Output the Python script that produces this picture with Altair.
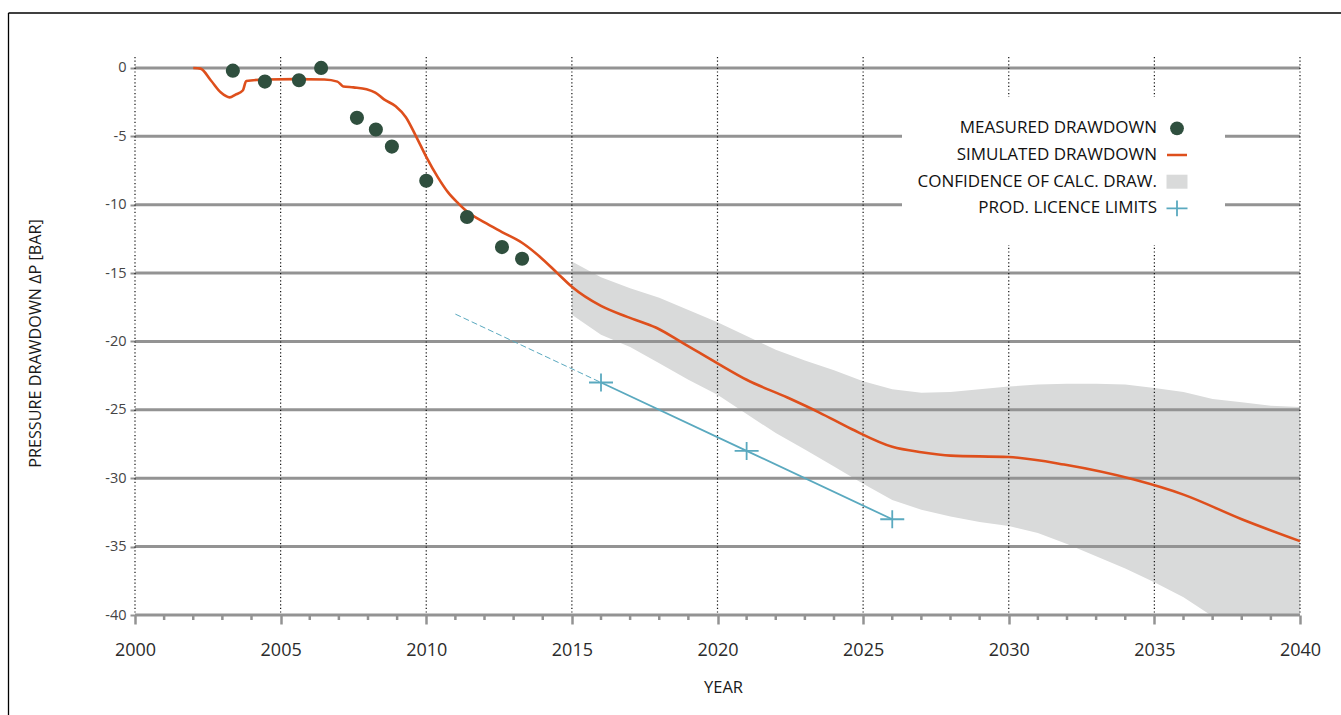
import altair as alt
import pandas as pd

# ---- data -------------------------------------------------------------
measured_year = [2003.36, 2004.46, 2005.63, 2006.39, 2007.62, 2008.27,
                 2008.82, 2010.0, 2011.40, 2012.60, 2013.29]
measured_dp = [-0.2, -1.0, -0.9, 0.0, -3.65, -4.5, -5.75, -8.25, -10.9,
               -13.1, -13.95]

sim_year = [2002.0, 2002.25, 2002.6, 2002.95, 2003.25, 2003.45, 2003.7,
            2003.82, 2004.5, 2005.5, 2006.5, 2006.95, 2007.15, 2007.5,
            2007.95, 2008.25, 2008.55, 2008.95, 2009.3, 2009.65, 2010.0,
            2010.4, 2010.75, 2011.1, 2011.4, 2012.0, 2012.6, 2013.3,
            2013.9, 2014.5, 2015.0, 2016.0, 2016.9, 2017.9, 2018.8,
            2020.0, 2021.0, 2022.4, 2023.5, 2024.6, 2026.0, 2027.0,
            2028.0, 2030.0, 2031.9, 2034.3, 2036.0, 2038.0, 2040.0]
sim_dp = [0.0, -0.05, -0.9, -1.8, -2.15, -1.95, -1.65, -0.95, -0.85,
          -0.82, -0.85, -1.0, -1.35, -1.42, -1.55, -1.8, -2.3, -2.8,
          -3.6, -5.0, -6.5, -8.0, -9.1, -9.9, -10.5, -11.3, -12.0, -12.8,
          -13.8, -15.0, -16.0, -17.4, -18.2, -19.0, -20.1, -21.6, -22.8,
          -24.1, -25.2, -26.4, -27.7, -28.1, -28.35, -28.45, -29.0, -30.1,
          -31.2, -33.0, -34.6]

band_year = list(range(2015, 2041))
band_upper = [-14.15, -15.3, -16.1, -16.8, -17.7, -18.6, -19.6, -20.6,
              -21.4, -22.1, -22.9, -23.5, -23.75, -23.7, -23.5, -23.3,
              -23.15, -23.1, -23.1, -23.15, -23.4, -23.7, -24.2, -24.45,
              -24.7, -24.8]
band_lower = [-18.05, -19.5, -20.4, -21.6, -22.8, -23.9, -25.3, -26.7,
              -27.9, -29.15, -30.4, -31.6, -32.3, -32.8, -33.2, -33.5,
              -34.0, -34.8, -35.7, -36.6, -37.6, -38.7, -40.1, -41.5,
              -43.0, -44.5]

licence_year = [2016, 2021, 2026]
licence_dp = [-23, -28, -33]
licence_trend_year = [2011, 2016]
licence_trend_dp = [-18, -23]

legend_labels = ["MEASURED DRAWDOWN", "SIMULATED DRAWDOWN",
                 "CONFIDENCE OF CALC. DRAW.", "PROD. LICENCE LIMITS"]

x_major = list(range(2000, 2041, 5))
x_minor = [y for y in range(2000, 2041) if y % 5 != 0]
y_ticks = list(range(-40, 1, 5))

# ---- styling ------------------------------------------------------------
FONT = "Open Sans"
ORANGE = "#de4f1c"
GREEN = "#2f4f3e"
TEAL = "#5aa9bf"
BAND = "#d9dada"
GRID = "#939393"
W, H = 1165, 558
CROSS = "M-1,0H1M0,-0.75V0.75"

xs = alt.Scale(domain=[2000, 2040], nice=False, zero=False)
ys = alt.Scale(domain=[-40, 0.8], nice=False, zero=False)

x_axis = alt.Axis(
    values=x_major, format="d", title="YEAR", grid=False, domain=False,
    labelFlush=False, labelOverlap=False,
    tickColor=GRID, tickWidth=2.5, tickSize=9, labelPadding=17,
    labelFont=FONT, labelFontSize=18, labelColor="#2b2b2b",
    titleFont=FONT, titleFontSize=16.5, titleFontWeight="normal",
    titleColor="#1a1a1a", titleX=588, titleY=72, titleBaseline="middle",
    titleAlign="center",
)
y_axis = alt.Axis(
    values=y_ticks, labelExpr="toString(datum.value)",
    title="PRESSURE DRAWDOWN ΔP [BAR]", labelFlush=False, labelOverlap=False,
    grid=False, domain=False, tickColor=GRID, tickWidth=2, tickSize=5,
    labelPadding=4, labelFont=FONT, labelFontSize=14.5,
    labelColor="#444444", titleFont=FONT, titleFontSize=16.2,
    titleFontWeight="normal", titleColor="#1a1a1a", titleX=-100,
    titleY=286, titleAngle=270, titleBaseline="middle", titleAlign="center",
)

X = alt.X("year:Q", scale=xs, axis=x_axis)
Y = alt.Y("dp:Q", scale=ys, axis=y_axis)

# ---- layers -------------------------------------------------------------
band_df = pd.DataFrame({"year": band_year, "dp": band_upper, "dp2": band_lower})
band = alt.Chart(band_df).mark_area(color=BAND, clip=True).encode(
    x=X, y=Y, y2="dp2:Q")

hgrid = alt.Chart(pd.DataFrame({"dp": y_ticks})).mark_rule(
    color=GRID, strokeWidth=3).encode(y=Y)

vgrid = alt.Chart(pd.DataFrame({"year": x_major})).mark_rule(
    color="#111111", strokeWidth=1.2, strokeDash=[1.2, 2.4]).encode(x=X)

minor_ticks = alt.Chart(pd.DataFrame({"year": x_minor})).mark_rule(
    color=GRID, strokeWidth=2.5).encode(
    x=X, y=alt.value(H), y2=alt.value(H + 5))

legend_box = alt.Chart(pd.DataFrame({"k": [0]})).mark_rect(
    color="white").encode(
    x=alt.value(767), x2=alt.value(1090), y=alt.value(40), y2=alt.value(188))

trend = alt.Chart(pd.DataFrame({"year": licence_trend_year,
                                "dp": licence_trend_dp})).mark_line(
    color=TEAL, strokeWidth=1, strokeDash=[6, 3]).encode(x=X, y=Y)

lic_df = pd.DataFrame({"year": licence_year, "dp": licence_dp})
lic_line = alt.Chart(lic_df).mark_line(color=TEAL, strokeWidth=1.8).encode(
    x=X, y=Y)
lic_pts = alt.Chart(lic_df).mark_point(
    shape=CROSS, size=576, color=TEAL, strokeWidth=1.8, filled=False,
    opacity=1).encode(x=X, y=Y)

sim = alt.Chart(pd.DataFrame({"year": sim_year, "dp": sim_dp})).mark_line(
    color=ORANGE, strokeWidth=2.6, interpolate="monotone").encode(x=X, y=Y)

meas = alt.Chart(pd.DataFrame({"year": measured_year,
                               "dp": measured_dp})).mark_circle(
    color=GREEN, size=200, opacity=1).encode(x=X, y=Y)

# ---- legend -------------------------------------------------------------
LX, SX = 1022, 1042
ROWS = [71.3, 98, 124.7, 151.3]
one = pd.DataFrame({"k": [0]})
legend_layers = []
for lab, ry in zip(legend_labels, ROWS):
    legend_layers.append(
        alt.Chart(pd.DataFrame({"label": [lab]})).mark_text(
            align="right", baseline="middle", font=FONT, fontSize=17,
            color="#111111").encode(
            text="label:N", x=alt.value(LX), y=alt.value(ry)))
legend_layers += [
    alt.Chart(one).mark_circle(color=GREEN, size=190, opacity=1).encode(
        x=alt.value(SX), y=alt.value(ROWS[0])),
    alt.Chart(one).mark_rule(color=ORANGE, strokeWidth=2.5).encode(
        x=alt.value(SX - 10), x2=alt.value(SX + 10), y=alt.value(ROWS[1])),
    alt.Chart(one).mark_rect(color=BAND).encode(
        x=alt.value(SX - 10.5), x2=alt.value(SX + 10.5),
        y=alt.value(ROWS[2] - 7), y2=alt.value(ROWS[2] + 7)),
    alt.Chart(one).mark_point(shape=CROSS, size=441, color=TEAL,
                              strokeWidth=1.8, filled=False, opacity=1).encode(
        x=alt.value(SX), y=alt.value(ROWS[3])),
]

# ---- outer frame ----------------------------------------------------------
frame = [
    alt.Chart(one).mark_rule(color="black", strokeWidth=1.3).encode(
        x=alt.value(-126.5), x2=alt.value(1210), y=alt.value(-44)),
    alt.Chart(one).mark_rule(color="black", strokeWidth=1.3).encode(
        x=alt.value(-126.5), y=alt.value(-44), y2=alt.value(660)),
]

chart = alt.layer(
    band, hgrid, vgrid, minor_ticks, legend_box, trend, lic_line, lic_pts,
    sim, meas, *legend_layers, *frame,
).properties(
    width=W, height=H,
    autosize=alt.AutoSizeParams(type="none"),
    padding={"left": 135, "top": 57, "right": 41, "bottom": 100},
    background="white",
).configure_view(stroke=None)

chart.save("out.html", embed_options={"renderer": "svg", "actions": False})
